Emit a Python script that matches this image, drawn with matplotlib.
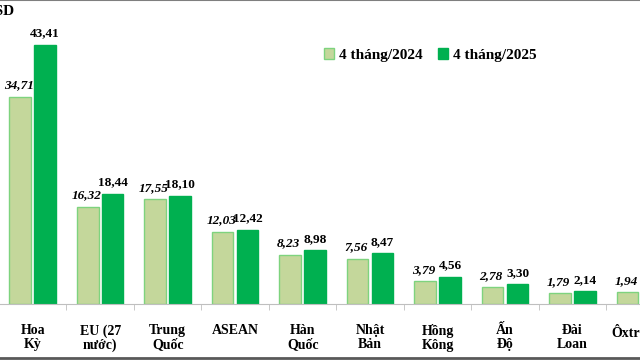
import matplotlib
matplotlib.use("Agg")
from matplotlib import pyplot as plt
from matplotlib.patches import Patch
from matplotlib.lines import Line2D
import numpy as np

# data (ty USD)
categories = ["Hoa\nKỳ", "EU (27\nnước)", "Trung\nQuốc", "ASEAN", "Hàn\nQuốc",
              "Nhật\nBản", "Hồng\nKông", "Ấn\nĐộ", "Đài\nLoan", "Ôxtrâylia"]
val_2024 = [34.71, 16.32, 17.55, 12.03, 8.23, 7.56, 3.79, 2.78, 1.79, 1.94]
val_2025 = [43.41, 18.44, 18.10, 12.42, 8.98, 8.47, 4.56, 3.30, 2.14, 2.25]
series_names = ["4 tháng/2024", "4 tháng/2025"]

c24, c24_edge = "#c4d79b", "#7ed37e"
c25, c25_edge = "#00b050", "#00b050"

plt.rcParams["font.family"] = ["Liberation Serif", "DejaVu Serif"]

fig = plt.figure(figsize=(6.4, 3.6), dpi=100)
cat_px = 68.2  # pixels per category
x0_px = -1.0   # left boundary of first category in pixels
ax = fig.add_axes([0, 1 - 304 / 360, 1, 304 / 360])
ax.set_xlim(-0.5 - x0_px / cat_px, -0.5 + (640 - x0_px) / cat_px)
ax.set_ylim(0, 304 / 5.97)

x = np.arange(len(categories))
w = 0.32
off = 0.185
ax.bar(x - off, val_2024, w, color=c24, edgecolor=c24_edge, linewidth=1)
ax.bar(x + off, val_2025, w, color=c25, edgecolor=c25_edge, linewidth=1)

for xi, v in zip(x, val_2024):
    ax.annotate(f"{v:.2f}".replace(".", ","), (xi - off, v), xytext=(-1, 4),
                textcoords="offset points", ha="center", va="bottom",
                fontsize=9.5, fontweight="bold", fontstyle="italic")
for xi, v in zip(x, val_2025):
    ax.annotate(f"{v:.2f}".replace(".", ","), (xi + off, v), xytext=(0, 4),
                textcoords="offset points", ha="center", va="bottom",
                fontsize=9.5, fontweight="bold")

for s in ["top", "left", "right"]:
    ax.spines[s].set_visible(False)
ax.spines["bottom"].set_color("#bfbfbf")
ax.set_yticks([])
ax.set_xticks(x)
ax.set_xticklabels(categories, fontsize=10, fontweight="bold", linespacing=1.1, va="top")
ax.tick_params(axis="x", which="major", length=0, pad=14.5)
ax.set_xticks(x[:-1] + 0.5, minor=True)
ax.tick_params(axis="x", which="minor", length=4, color="#bfbfbf", direction="out")

handles = [Patch(facecolor=c24, edgecolor=c24_edge), Patch(facecolor=c25, edgecolor=c25_edge)]
fig.legend(handles, series_names, loc="center", bbox_to_anchor=(0.672, 1 - 55 / 360),
           ncol=2, frameon=False, handlelength=0.7, handleheight=0.7, handletextpad=0.3,
           columnspacing=1.0, prop={"size": 11, "weight": "bold"})

fig.text(14 / 640, 1 - 11 / 360, "Tỷ USD", ha="right", va="center", fontsize=11, fontweight="bold")

# frame lines at top and bottom
fig.add_artist(Line2D([0, 1], [0.999, 0.999], color="#7f7f7f", linewidth=1.5))
fig.add_artist(Line2D([0, 1], [1 - 358 / 360, 1 - 358 / 360], color="#595959", linewidth=2))

fig.savefig("out.png", dpi=100)
